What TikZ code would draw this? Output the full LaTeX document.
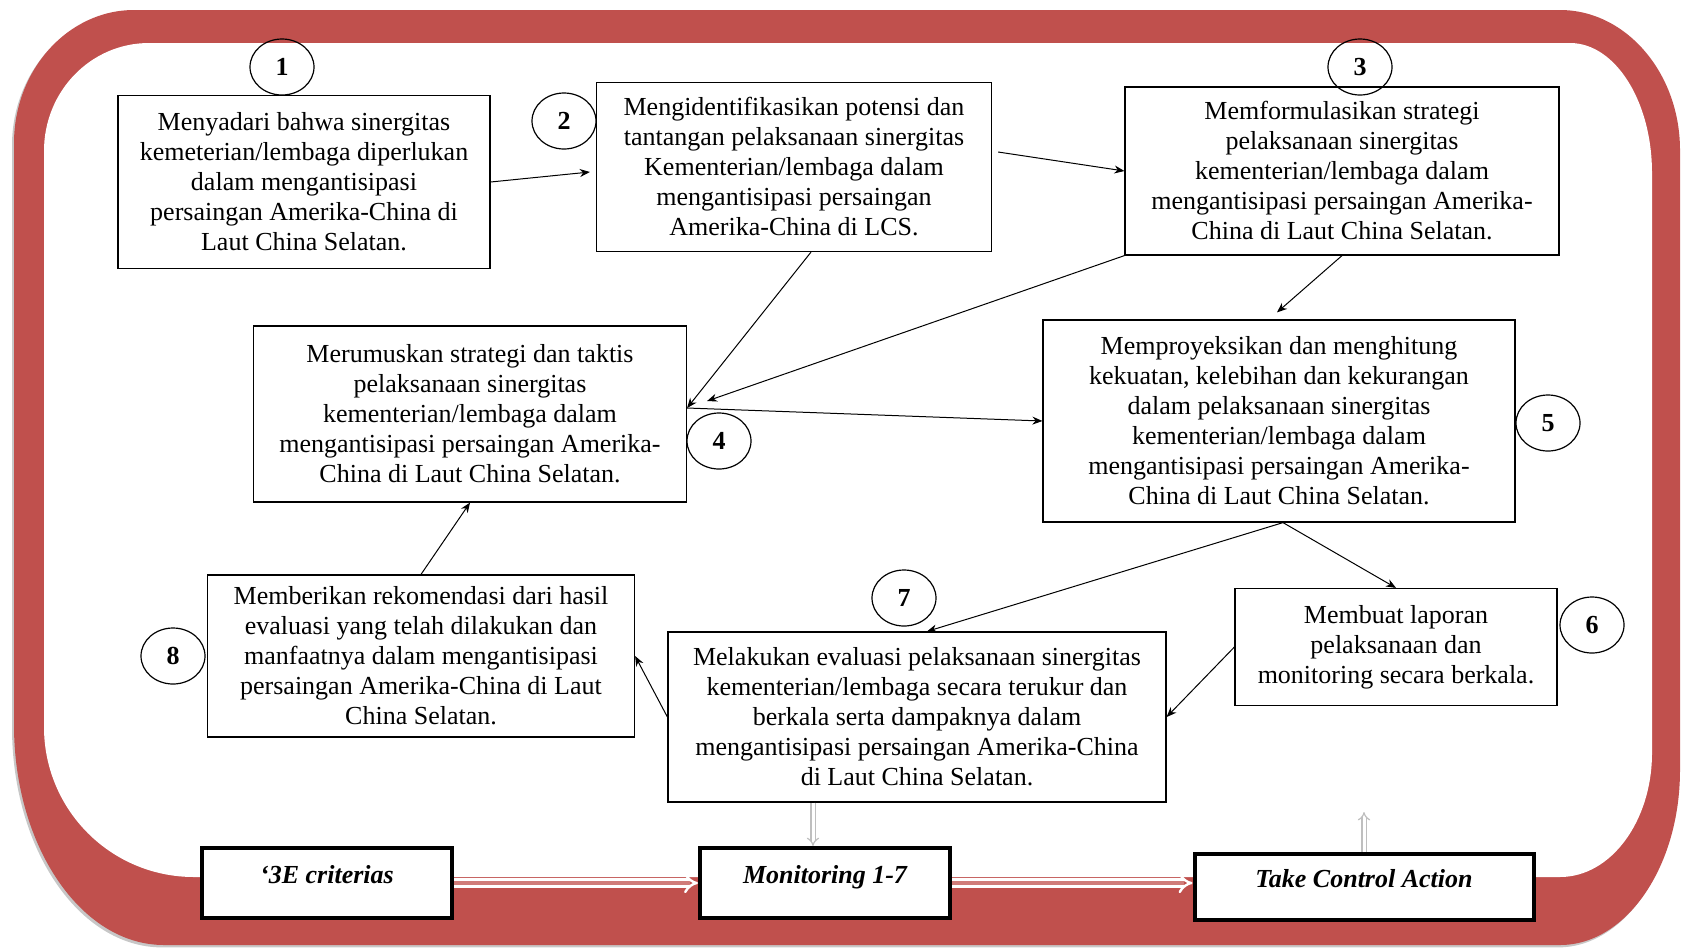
\documentclass[tikz,border=0pt]{standalone}
\usepackage{fontspec}
\setmainfont{Liberation Serif}
\usetikzlibrary{arrows.meta,shapes.geometric}
\definecolor{bandred}{HTML}{C0504D}
\newcommand{\stepfont}{\fontsize{13}{15}\selectfont}
\newcommand{\framepath}{%
  (14,143) .. controls (14,70) and (68,10) .. (134,10)
  -- (1560,10) .. controls (1626,10) and (1680,73) .. (1680,150)
  -- (1680,770) .. controls (1680,867) and (1626,945) .. (1560,945)
  -- (164,945) .. controls (81,945) and (14,846) .. (14,725) -- cycle}

\begin{document}
\begin{tikzpicture}[x=0.5pt, y=-0.5pt,
      every node/.style={inner sep=0pt},
      stepbox/.style={draw, line width=0.6pt, align=center, font=\stepfont},
      numtag/.style={ellipse, draw, line width=0.6pt, minimum width=32pt, minimum height=28pt, font=\stepfont\bfseries},
      ctrlbox/.style={draw, fill=white, line width=2pt, font=\stepfont\bfseries\itshape, text height=17.5pt, text depth=17.5pt},
      flow/.style={-{Stealth[length=5pt,width=4pt]}, line width=0.5pt},
      bandarrow/.style={draw=white, double=bandred!75!white, double distance=2.2pt, line width=1.2pt, -Implies},
      greyarrow/.style={draw=black!25, double=white, double distance=1.5pt, line width=0.6pt, -Implies}
    ]
  \useasboundingbox (0,0) rectangle (1682,949);
  \clip (0,0) rectangle (1682,949);

  \fill[black!22, xshift=-1pt, yshift=-1.2pt] \framepath;
  \fill[bandred] \framepath;
  \fill[white]
    (44,151) .. controls (44,91) and (91,43) .. (149,43)
    -- (1570,43) .. controls (1615,43) and (1652,101) .. (1652,173)
    -- (1652,753) .. controls (1652,821) and (1611,877) .. (1560,877)
    -- (194,877) .. controls (111,877) and (44,810) .. (44,727) -- cycle;

  \node[stepbox, minimum width=186pt, minimum height=86.5pt] (s1) at (304,182)
    {Menyadari bahwa sinergitas\\ kemeterian/lembaga diperlukan\\ dalam mengantisipasi\\ persaingan Amerika-China di\\ Laut China Selatan.};
  \node[stepbox, minimum width=197.5pt, minimum height=84.5pt] (s2) at (794,167)
    {Mengidentifikasikan potensi dan\\ tantangan pelaksanaan sinergitas\\ Kementerian/lembaga dalam\\ mengantisipasi persaingan\\ Amerika-China di LCS.};
  \node[stepbox, minimum width=217pt, minimum height=84pt] (s3) at (1342,171)
    {Memformulasikan strategi\\ pelaksanaan sinergitas\\ kementerian/lembaga dalam\\ mengantisipasi persaingan Amerika-\\ China di Laut China Selatan.};
  \node[stepbox, minimum width=216.5pt, minimum height=88pt] (s4) at (470,414)
    {Merumuskan strategi dan taktis\\ pelaksanaan sinergitas\\ kementerian/lembaga dalam\\ mengantisipasi persaingan Amerika-\\ China di Laut China Selatan.};
  \node[stepbox, minimum width=236pt, minimum height=101pt] (s5) at (1279,421)
    {Memproyeksikan dan menghitung\\ kekuatan, kelebihan dan kekurangan\\ dalam pelaksanaan sinergitas\\ kementerian/lembaga dalam\\ mengantisipasi persaingan Amerika-\\ China di Laut China Selatan.};
  \node[stepbox, minimum width=161pt, minimum height=58.5pt] (s6) at (1396,647)
    {Membuat laporan\\ pelaksanaan dan\\ monitoring secara berkala.};
  \node[stepbox, minimum width=249pt, minimum height=85pt] (s7) at (917,717)
    {Melakukan evaluasi pelaksanaan sinergitas\\ kementerian/lembaga secara terukur dan\\ berkala serta dampaknya dalam\\ mengantisipasi persaingan Amerika-China\\ di Laut China Selatan.};
  \node[stepbox, minimum width=213.5pt, minimum height=81pt] (s8) at (421,656)
    {Memberikan rekomendasi dari hasil\\ evaluasi yang telah dilakukan dan\\ manfaatnya dalam mengantisipasi\\ persaingan Amerika-China di Laut\\ China Selatan.};

  \node[numtag] (n1) at (282,67) {1};
  \node[numtag] (n2) at (564,121) {2};
  \node[numtag] (n3) at (1360,67) {3};
  \node[numtag] (n4) at (719,441) {4};
  \node[numtag] (n5) at (1548,423) {5};
  \node[numtag] (n6) at (1592,625) {6};
  \node[numtag] (n7) at (904,598) {7};
  \node[numtag] (n8) at (173,656) {8};

  \coordinate (j4) at ([yshift=3pt]s4.east);
  \coordinate (j5) at ([xshift=2pt]s5.south);
  \draw[flow] (s1.east) -- ([xshift=-3pt,yshift=-2.5pt]s2.west);
  \draw[flow] ([xshift=3pt,yshift=7.5pt]s2.east) -- (s3.west);
  \draw[flow] (s3.south) -- ([xshift=-1pt,yshift=3.5pt]s5.north);
  \draw[flow] (s3.south west) -- ([xshift=10pt,yshift=3.5pt]j4);
  \draw[flow] ([xshift=8.5pt]s2.south) -- (j4);
  \draw[flow] (j4) -- (s5.west);
  \draw[flow] (j5) -- (s6.north);
  \draw[flow] (j5) -- ([xshift=5pt]s7.north);
  \draw[flow] (s6.west) -- (s7.east);
  \draw[flow] (s7.west) -- (s8.east);
  \draw[flow] (s8.north) -- (s4.south);

  \node[ctrlbox, minimum width=125pt] (crit) at (327,883) {‘3E criterias};
  \node[ctrlbox, minimum width=125pt] (mon) at (825,883) {Monitoring 1-7};
  \node[ctrlbox, minimum width=169.5pt, text height=16.5pt, text depth=16.5pt] (act) at (1364,887) {Take Control Action};

  \draw[bandarrow] (crit.east) -- (mon.west);
  \draw[bandarrow] (mon.east) -- (mon.east -| act.west);
  \coordinate (g1) at ([xshift=-52pt]s7.south);
  \coordinate (up) at ([yshift=20pt]act.north);
  \draw[greyarrow] (g1) -- (g1 |- mon.north);
  \draw[greyarrow] (act.north) -- (up);
\end{tikzpicture}
\end{document}
